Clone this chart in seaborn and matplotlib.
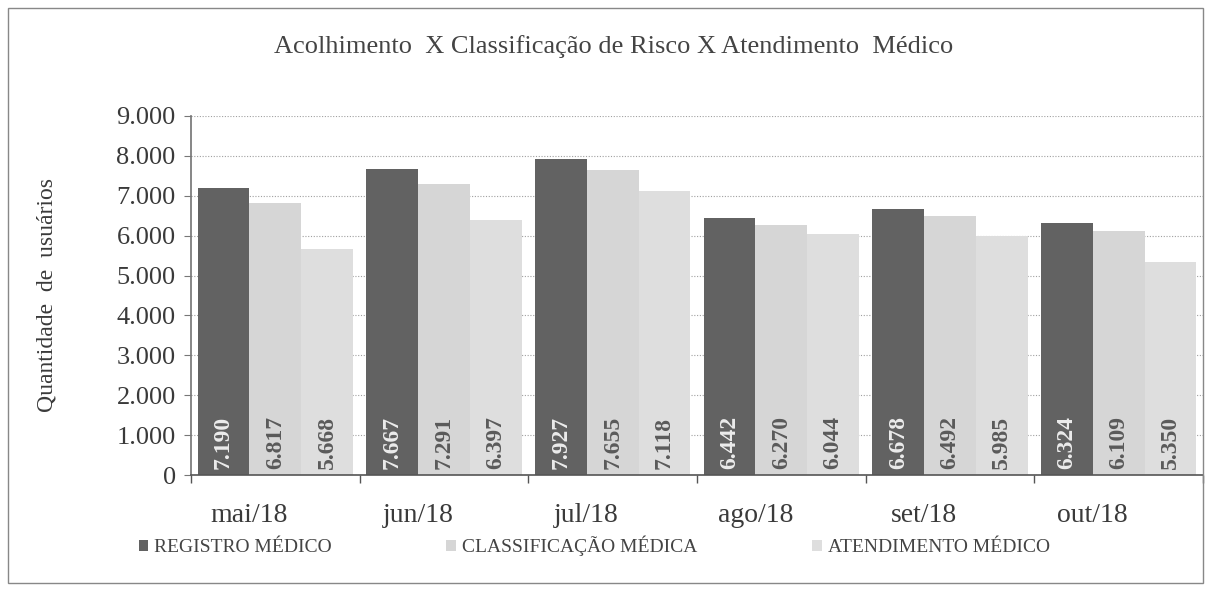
import pandas as pd
import seaborn as sns
import matplotlib.pyplot as plt
import matplotlib.transforms as mtransforms
from matplotlib.patches import Rectangle

# dados do gráfico
meses = ["mai/18", "jun/18", "jul/18", "ago/18", "set/18", "out/18"]
registro = [7190, 7667, 7927, 6442, 6678, 6324]
classificacao = [6817, 7291, 7655, 6270, 6492, 6109]
atendimento = [5668, 6397, 7118, 6044, 5985, 5350]
series = ["REGISTRO MÉDICO", "CLASSIFICAÇÃO MÉDICA", "ATENDIMENTO MÉDICO"]
y_ticks = [0, 1000, 2000, 3000, 4000, 5000, 6000, 7000, 8000, 9000]

sns.set_theme(style="white")
plt.rcParams["font.family"] = ["Liberation Serif", "DejaVu Serif"]

df = pd.DataFrame({
    "Mes": meses * 3,
    "Serie": [series[0]] * 6 + [series[1]] * 6 + [series[2]] * 6,
    "Valor": registro + classificacao + atendimento,
})


def fmt(v):
    return f"{int(v):,}".replace(",", ".")


fig = plt.figure(figsize=(12.06, 5.93), dpi=100)
ax = fig.add_axes([191 / 1206, 118 / 593, 1012 / 1206, 359 / 593])

cores = ["#626262", "#d6d6d6", "#dedede"]
sns.barplot(data=df, x="Mes", y="Valor", hue="Serie", hue_order=series,
            palette=cores, width=0.92, saturation=1, linewidth=0, ax=ax, zorder=2)

# rótulos de valor, rotacionados, perto da base
cor_txt = ["#ececec", "#5a5a5a", "#5a5a5a"]
for cont, c in zip(ax.containers, cor_txt):
    for bar in cont:
        ax.annotate(fmt(bar.get_height()), (bar.get_x() + bar.get_width() / 2, 0),
                    xytext=(0, 4), textcoords="offset points", rotation=90,
                    ha="center", va="bottom", fontsize=17, fontweight="bold", color=c)

ax.set_xlim(-0.5, 5.5)
ax.set_ylim(0, 9000)
ax.set_yticks(y_ticks)
ax.set_yticklabels([fmt(v) for v in y_ticks])
ax.set_xticks(range(len(meses)))
ax.set_xticks([i - 0.5 for i in range(len(meses) + 1)], minor=True)
ax.tick_params(axis="x", which="major", length=0, pad=20, labelsize=20, labelcolor="#3a3a3a")
ax.tick_params(axis="x", which="minor", length=6, width=1, direction="out", color="#555555", bottom=True)
ax.tick_params(axis="y", length=5, width=0.8, direction="out", color="#777777", left=True,
               pad=6, labelsize=19, labelcolor="#3a3a3a")

# rótulos do eixo x um pouco deslocados para a esquerda, como no original
desloc = mtransforms.ScaledTranslation(-26 / 100, 0, fig.dpi_scale_trans)
for lbl in ax.get_xticklabels():
    lbl.set_transform(lbl.get_transform() + desloc)

ax.set_xlabel("")
ax.set_ylabel("Quantidade  de  usuários", fontsize=17, color="#3a3a3a")
ax.yaxis.set_label_coords(-0.132, 0.5)

ax.grid(axis="y", linestyle=(0, (1, 1.5)), color="#a0a0a0", linewidth=0.8, zorder=0)
for lado in ["top", "right"]:
    ax.spines[lado].set_visible(False)
ax.spines["left"].set_color("#777777")
ax.spines["bottom"].set_color("#555555")
ax.spines["bottom"].set_linewidth(1.2)

# legenda embaixo
h, l = ax.get_legend_handles_labels()
ax.legend_.remove()
fig.legend(h, l, loc="center left", bbox_to_anchor=(121 / 1206, 1 - 546 / 593), ncol=3,
           frameon=False, fontsize=14, handlelength=0.5, handleheight=0.5,
           handletextpad=0.3, columnspacing=5.9, labelcolor="#444444")

fig.text(614 / 1206, 1 - 47 / 593, "Acolhimento  X Classificação de Risco X Atendimento  Médico",
         ha="center", va="center", fontsize=19, color="#444444")

# moldura do gráfico
fig.patches.append(Rectangle((8 / 1206, 10 / 593), 1195 / 1206, 575 / 593, transform=fig.transFigure,
                             fill=False, edgecolor="#888888", linewidth=1))

fig.savefig("out.png", dpi=100)
